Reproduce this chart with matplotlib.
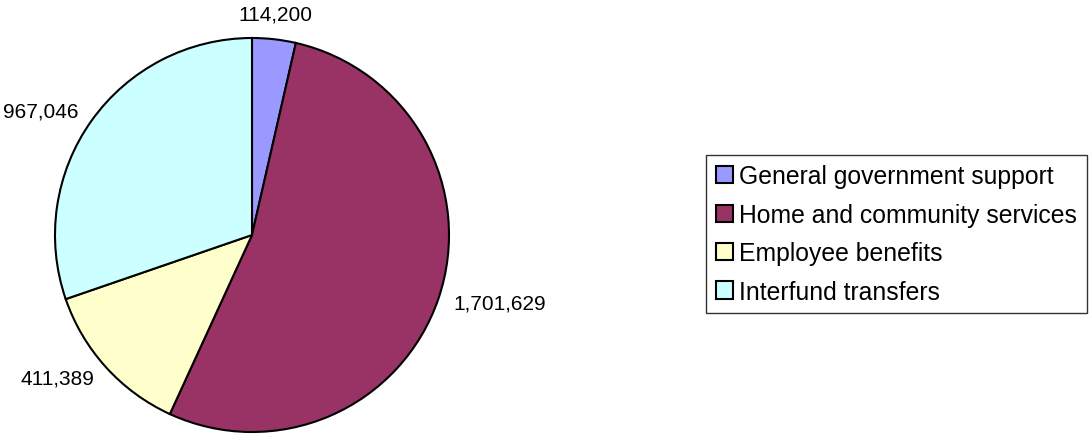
import matplotlib.pyplot as plt

plt.rcParams['font.family'] = ['Liberation Sans', 'DejaVu Sans']

categories = ['General government support', 'Home and community services',
              'Employee benefits', 'Interfund transfers']
values = [114200, 1701629, 411389, 967046]
value_labels = ['114,200', '1,701,629', '411,389', '967,046']
colors = ['#9999FF', '#993366', '#FFFFCC', '#CCFFFF']

fig = plt.figure(figsize=(10.92, 4.35), dpi=100)
ax = fig.add_axes([55 / 1092, 2 / 435, 394 / 1092, 394 / 435])

wedges, texts = ax.pie(values, labels=value_labels, colors=colors, startangle=90,
                       counterclock=False, labeldistance=1.08,
                       wedgeprops=dict(edgecolor='black', linewidth=1.5),
                       textprops=dict(fontsize=15))
for t in texts:
    t.set_clip_on(False)
# top label sits centred above its small slice
texts[0].set_horizontalalignment('center')
texts[0].set_verticalalignment('bottom')
ax.set_xlim(-1, 1)
ax.set_ylim(-1, 1)
ax.set_aspect('equal')
ax.axis('off')

leg = fig.legend(wedges, categories, loc='center left',
                 bbox_to_anchor=(706 / 1092, 1 - 235 / 435),
                 fontsize=17.8, fancybox=False, frameon=True,
                 handlelength=0.7, handleheight=0.7, handletextpad=0.25,
                 labelspacing=0.58, borderpad=0.4, borderaxespad=0)
leg.get_frame().set_edgecolor('black')
leg.get_frame().set_linewidth(1.0)

fig.savefig('out.png', dpi=100)
